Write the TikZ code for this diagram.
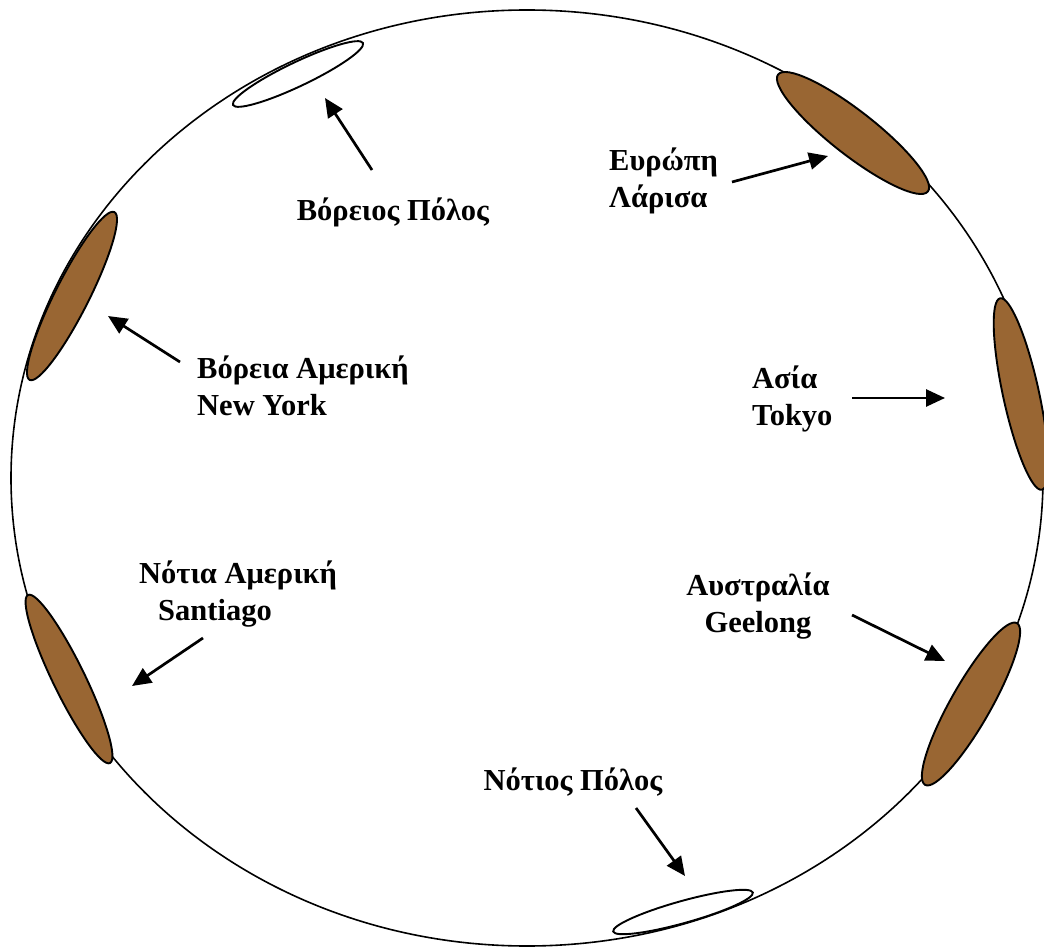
\documentclass[tikz,border=0pt]{standalone}
\usepackage{fontspec}
\setmainfont{Liberation Serif}
\usetikzlibrary{shapes.geometric,arrows.meta}
\definecolor{land}{HTML}{996633}
\begin{document}
\begin{tikzpicture}[x=1pt,y=-1pt,
  globe/.style={line width=1.6pt},
  cont/.style={ellipse,draw,line width=1.9pt,fill=land,inner sep=0pt},
  pole/.style={ellipse,draw,line width=1.9pt,fill=white,inner sep=0pt},
  lbl/.style={font=\bfseries\fontsize{30.5}{37}\selectfont,inner sep=0pt,align=left},
  arr/.style={line width=2.7pt,-{Triangle[length=19pt,width=17pt]}}]
\useasboundingbox (0,0) rectangle (1044,949);
\draw[globe] (527,478) ellipse [x radius=516pt, y radius=468pt];
% continents and poles
\node[pole,minimum width=144pt,minimum height=24pt,rotate=25.5] (np) at (298,74) {};
\node[cont,minimum width=190pt,minimum height=44pt,rotate=-38] (eu) at (853,133) {};
\node[cont,minimum width=196pt,minimum height=36pt,rotate=-77.7] (as) at (1021,394) {};
\node[cont,minimum width=188pt,minimum height=34pt,rotate=63.2] (na) at (72,296) {};
\node[cont,minimum width=187pt,minimum height=32pt,rotate=-64] (sa) at (69,679) {};
\node[cont,minimum width=186pt,minimum height=40pt,rotate=60.4] (au) at (971,704) {};
\node[pole,minimum width=145pt,minimum height=22pt,rotate=15.6] (sp) at (683,912) {};
% labels
\node[lbl,anchor=center] (tnp) at (393,212) {Βόρειος Πόλος};
\node[lbl,anchor=west] (teu) at (609,181) {Ευρώπη\\Λάρισα};
\node[lbl,anchor=west] (tna) at (197,386) {Βόρεια Αμερική\\New York};
\node[lbl,anchor=west] (tas) at (752,399) {Ασία\\Tokyo};
\node[lbl,anchor=west] (tsa) at (139,594) {Νότια Αμερική\\\hspace*{19pt}Santiago};
\node[lbl,anchor=center,align=center] (tau) at (758,606) {Αυστραλία\\Geelong};
\node[lbl,anchor=center] (tsp) at (573,782) {Νότιος Πόλος};
% arrow ends
\coordinate (a1s) at (372,170); \coordinate (a1e) at (325,98);
\coordinate (a2s) at (732,182); \coordinate (a2e) at (828,156);
\coordinate (a3s) at (852,398); \coordinate (a3e) at (945,398);
\coordinate (a4s) at (180,362); \coordinate (a4e) at (108,316);
\coordinate (a5s) at (203,638); \coordinate (a5e) at (132,686);
\coordinate (a6s) at (852,615); \coordinate (a6e) at (945,661);
\coordinate (a7s) at (636,808); \coordinate (a7e) at (685,876);
\draw[arr] (a1s) -- (a1e);
\draw[arr] (a2s) -- (a2e);
\draw[arr] (a3s) -- (a3e);
\draw[arr] (a4s) -- (a4e);
\draw[arr] (a5s) -- (a5e);
\draw[arr] (a6s) -- (a6e);
\draw[arr] (a7s) -- (a7e);
\end{tikzpicture}
\end{document}
